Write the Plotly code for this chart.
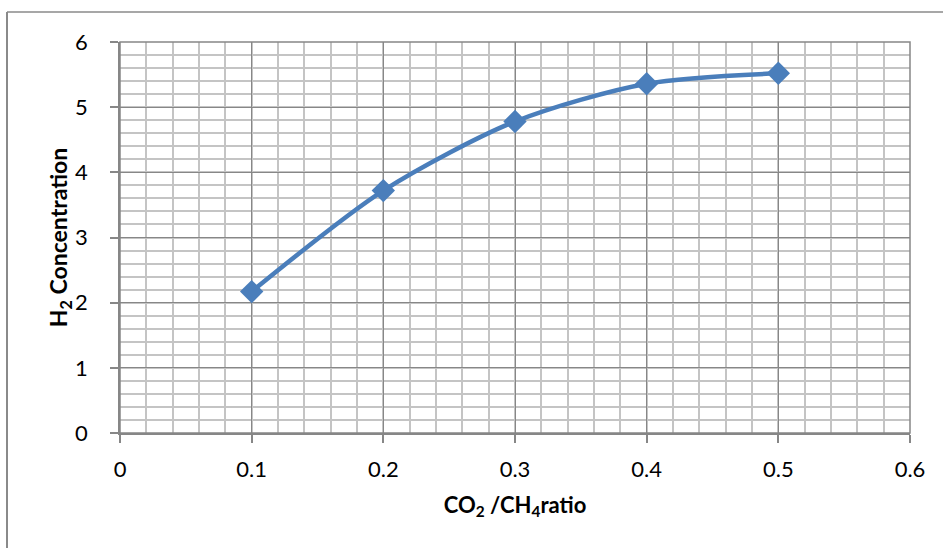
import plotly.graph_objects as go

# CO2/CH4 feed ratio vs. H2 concentration
ratio = [0.1, 0.2, 0.3, 0.4, 0.5]
h2_conc = [2.17, 3.72, 4.78, 5.36, 5.52]

x_ticks = [0, 0.1, 0.2, 0.3, 0.4, 0.5, 0.6]
x_tick_text = ["0", "0.1", "0.2", "0.3", "0.4", "0.5", "0.6"]
y_ticks = [0, 1, 2, 3, 4, 5, 6]

W, H = 943, 548
L, R, T, B = 120, 33, 42, 115

MAJOR = "#878787"
MINOR = "#c4c4c4"
BLUE = "#4a7ebb"
FONT = "Lato, 'Open Sans', sans-serif"

fig = go.Figure(
    go.Scatter(
        x=ratio,
        y=h2_conc,
        mode="lines+markers",
        line=dict(color=BLUE, width=4.5, shape="spline", smoothing=0.8),
        marker=dict(symbol="diamond", size=18, color=BLUE,
                    line=dict(color=BLUE, width=0)),
        showlegend=False,
    )
)

axis_common = dict(
    showgrid=True, gridcolor=MAJOR, gridwidth=1.3,
    showline=True, linecolor=MAJOR, linewidth=1.5,
    ticks="outside", ticklen=8, tickcolor=MAJOR, tickwidth=1.5,
    tickfont=dict(family=FONT, size=22, color="#000000"),
    zeroline=False, mirror=False,
)

fig.update_xaxes(
    range=[0, 0.6], tickvals=x_ticks, ticktext=x_tick_text,
    minor=dict(dtick=0.02, showgrid=True, gridcolor=MINOR, gridwidth=1.5, ticks=""),
    title=dict(text="<b>CO<sub>2</sub> /CH<sub>4</sub>ratio</b>",
               font=dict(family=FONT, size=22, color="#000000"), standoff=16),
    ticklabelstandoff=8,
    **axis_common,
)
fig.update_yaxes(
    range=[0, 6], tickvals=y_ticks,
    minor=dict(dtick=0.2, showgrid=True, gridcolor=MINOR, gridwidth=1.5, ticks=""),
    title=dict(text="<b>H<sub>2</sub> Concentration</b>",
               font=dict(family=FONT, size=23, color="#000000"), standoff=1),
    ticklabelstandoff=18,
    **axis_common,
)

# outer chart frame (top and left edges visible)
pw, ph = W - L - R, H - T - B
fx0 = (7 - L) / pw
fx1 = (W + 5 - L) / pw
fy_top = 1 + (T - 12) / ph
fy_bot = -(H + 5 - (H - B)) / ph
fig.add_shape(type="line", xref="paper", yref="paper",
              x0=fx0, x1=fx1, y0=fy_top, y1=fy_top,
              line=dict(color="#8a8a8a", width=1.5))
fig.add_shape(type="line", xref="paper", yref="paper",
              x0=fx0, x1=fx0, y0=fy_top, y1=fy_bot,
              line=dict(color="#8a8a8a", width=2))
# top and right plot edges
fig.add_shape(type="rect", xref="paper", yref="paper",
              x0=0, x1=1, y0=0, y1=1, line=dict(color=MAJOR, width=1.5),
              layer="above")

fig.update_layout(
    width=W, height=H,
    margin=dict(l=L, r=R, t=T, b=B),
    paper_bgcolor="white", plot_bgcolor="white",
    font=dict(family=FONT),
)

fig.write_html("out.html")
